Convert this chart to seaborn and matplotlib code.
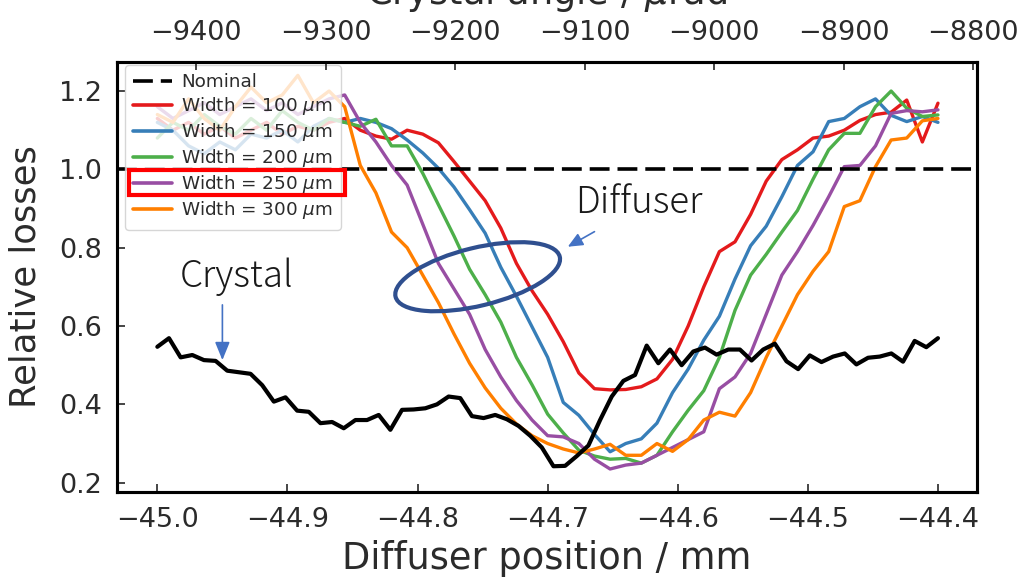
import numpy as np
import pandas as pd
import matplotlib.pyplot as plt
import matplotlib.transforms as mtransforms
from matplotlib.patches import Ellipse, Rectangle
import seaborn as sns

# diffuser scans (51 points between -45.0 and -44.4 mm)
widths = [100, 150, 200, 250, 300]
colors = ["#e41a1c", "#377eb8", "#4daf4a", "#984ea3", "#ff7f00"]

loss_w100 = [1.13, 1.10, 1.12, 1.09, 1.11, 1.08, 1.10, 1.12, 1.09, 1.11, 1.10, 1.12,
             1.13, 1.10, 1.085, 1.077, 1.10, 1.09, 1.068, 1.02, 0.97, 0.92, 0.85, 0.76,
             0.69, 0.63, 0.56, 0.48, 0.44, 0.437, 0.438, 0.445, 0.465, 0.515, 0.60, 0.70,
             0.79, 0.815, 0.885, 0.97, 1.025, 1.05, 1.08, 1.085, 1.10, 1.125, 1.14, 1.146,
             1.177, 1.07, 1.169]
loss_w150 = [1.12, 1.10, 1.06, 1.04, 1.07, 1.05, 1.09, 1.08, 1.10, 1.07, 1.11, 1.13,
             1.12, 1.13, 1.12, 1.104, 1.075, 1.042, 1.003, 0.955, 0.897, 0.837, 0.75, 0.676,
             0.598, 0.52, 0.405, 0.372, 0.323, 0.279, 0.30, 0.312, 0.352, 0.43, 0.49, 0.564,
             0.625, 0.72, 0.805, 0.855, 0.93, 1.01, 1.045, 1.122, 1.13, 1.16, 1.18, 1.138,
             1.122, 1.135, 1.12]
loss_w200 = [1.08, 1.12, 1.10, 1.14, 1.11, 1.09, 1.13, 1.10, 1.15, 1.12, 1.10, 1.13,
             1.12, 1.11, 1.128, 1.06, 1.06, 0.99, 0.91, 0.83, 0.745, 0.68, 0.61, 0.52,
             0.45, 0.375, 0.327, 0.283, 0.268, 0.26, 0.262, 0.25, 0.27, 0.33, 0.385, 0.435,
             0.52, 0.64, 0.73, 0.783, 0.84, 0.895, 0.975, 1.05, 1.092, 1.092, 1.16, 1.20,
             1.156, 1.135, 1.139]
loss_w250 = [1.16, 1.13, 1.15, 1.17, 1.14, 1.16, 1.18, 1.15, 1.17, 1.14, 1.16, 1.18,
             1.19, 1.12, 1.07, 1.01, 0.96, 0.86, 0.76, 0.695, 0.63, 0.54, 0.47, 0.41,
             0.36, 0.32, 0.317, 0.30, 0.26, 0.235, 0.245, 0.25, 0.27, 0.29, 0.31, 0.33,
             0.44, 0.47, 0.53, 0.63, 0.73, 0.79, 0.857, 0.93, 1.007, 1.01, 1.06, 1.143,
             1.15, 1.147, 1.152]
loss_w300 = [1.14, 1.12, 1.18, 1.13, 1.10, 1.16, 1.21, 1.17, 1.19, 1.24, 1.17, 1.20,
             1.16, 1.01, 0.94, 0.84, 0.80, 0.73, 0.66, 0.58, 0.505, 0.442, 0.39, 0.35,
             0.32, 0.30, 0.286, 0.276, 0.286, 0.298, 0.27, 0.27, 0.30, 0.28, 0.31, 0.36,
             0.38, 0.37, 0.43, 0.52, 0.60, 0.68, 0.74, 0.79, 0.905, 0.92, 1.007, 1.075,
             1.08, 1.124, 1.13]

# crystal scan (68 points over the same range)
loss_crystal = [0.547, 0.569, 0.520, 0.526, 0.513, 0.511, 0.486, 0.482, 0.478, 0.449,
                0.407, 0.418, 0.384, 0.381, 0.352, 0.355, 0.339, 0.360, 0.360, 0.373,
                0.335, 0.386, 0.387, 0.390, 0.400, 0.420, 0.416, 0.370, 0.365, 0.373,
                0.362, 0.345, 0.320, 0.290, 0.242, 0.243, 0.268, 0.295, 0.360, 0.420,
                0.460, 0.475, 0.550, 0.505, 0.540, 0.500, 0.535, 0.545, 0.527, 0.540,
                0.540, 0.512, 0.540, 0.555, 0.510, 0.490, 0.525, 0.508, 0.522, 0.530,
                0.502, 0.519, 0.522, 0.530, 0.509, 0.562, 0.546, 0.569]

nominal = 1.0
scan_start, scan_end = -45.0, -44.4
xticks = [-45.0, -44.9, -44.8, -44.7, -44.6, -44.5, -44.4]
yticks = [0.2, 0.4, 0.6, 0.8, 1.0, 1.2]
top_ticks = [-9400, -9300, -9200, -9100, -9000, -8900, -8800]

pos_diff = np.linspace(scan_start, scan_end, len(loss_w100))
pos_crys = np.linspace(scan_start, scan_end, len(loss_crystal))

rows = []
for w, vals in zip(widths, [loss_w100, loss_w150, loss_w200, loss_w250, loss_w300]):
    for p, v in zip(pos_diff, vals):
        rows.append({"pos": p, "loss": v, "width": w})
df = pd.DataFrame(rows)

sns.set_style("ticks")
plt.rcParams["font.family"] = ["DejaVu Sans"]
plt.rcParams["mathtext.fontset"] = "dejavusans"
txt_col = "#2b2b2b"

fig = plt.figure(figsize=(10.21, 5.78), dpi=100)
ax = fig.add_axes([0.1146, 0.1493, 0.8423, 0.744])

ax.axhline(nominal, color="black", lw=2.6, dashes=(5.5, 2.2), label="Nominal", zorder=3)
for w, c in zip(widths, colors):
    sub = df[df["width"] == w]
    sns.lineplot(data=sub, x="pos", y="loss", color=c, lw=2.4, ax=ax,
                 label=f"Width = {w} $\\mu$m")
sns.lineplot(x=pos_crys, y=loss_crystal, color="black", lw=3.0, ax=ax, zorder=4)

ax.set_xlim(-45.031, -44.370)
ax.set_ylim(0.177, 1.275)
ax.set_xticks(xticks)
ax.set_yticks(yticks)
ax.tick_params(direction="in", length=6, width=1.2, labelsize=19.5, pad=11,
               labelcolor=txt_col, top=False, right=False)
ax.set_xlabel("Diffuser position / mm", fontsize=26.5, color=txt_col, labelpad=5)
ax.set_ylabel("Relative losses", fontsize=25.5, color=txt_col, labelpad=12)

ax2 = ax.twiny()
ax2.set_xlim(-9461, -8797)
ax2.set_xticks(top_ticks)
ax2.tick_params(direction="in", length=6, width=1.2, labelsize=19.5, pad=11,
                labelcolor=txt_col)
ax2.set_xlabel("Crystal angle / $\\mu$rad", fontsize=26.5, color=txt_col, labelpad=12)
for a in (ax, ax2):
    for s in a.spines.values():
        s.set_linewidth(2.2)
        s.set_color("black")

handles, labels = ax.get_legend_handles_labels()
leg = ax.legend(handles, labels, loc="upper left", bbox_to_anchor=(0.0093, 0.9923),
                borderaxespad=0, fontsize=13.2, labelspacing=0.22, handlelength=2.1,
                handletextpad=0.5, borderpad=0.45, framealpha=0.8, edgecolor="#cccccc",
                fancybox=True)
for t in leg.get_texts():
    t.set_color(txt_col)
for h in leg.legend_handles:
    h.set_linewidth(2.6)

# annotations
arrow_col = "#4472c4"
ann_font = ["Noto Sans CJK JP", "DejaVu Sans"]
ax.text(-44.939, 0.727, "Crystal", fontsize=26.5, family=ann_font, weight="light",
        color="#1a1a1a", ha="center", va="center")
ax.text(-44.630, 0.915, "Diffuser", fontsize=26.5, family=ann_font, weight="light",
        color="#1a1a1a", ha="center", va="center")
ax.annotate("", xy=(-44.950, 0.513), xytext=(-44.950, 0.654),
            arrowprops=dict(arrowstyle="-|>,head_length=1.1,head_width=0.45",
                            color=arrow_col, lw=1.2, shrinkA=0, shrinkB=0))
ax.annotate("", xy=(-44.6845, 0.8025), xytext=(-44.664, 0.841),
            arrowprops=dict(arrowstyle="-|>,head_length=0.9,head_width=0.4",
                            color=arrow_col, lw=1.2, shrinkA=0, shrinkB=0))
ell_t = mtransforms.IdentityTransform() + mtransforms.ScaledTranslation(-44.7538, 0.7259, ax.transData)
ax.add_artist(Ellipse((0, 0), width=169, height=58, angle=13.7, transform=ell_t,
                      fill=False, ec="#2f4f8f", lw=3, zorder=6))

# red box around the 250 um entry
fig.canvas.draw()
r = fig.canvas.get_renderer()
tb = leg.get_texts()[4].get_window_extent(r)
hb = leg.legend_handles[4].get_window_extent(r)
lb = leg.get_window_extent(r)
yc = (tb.y0 + tb.y1) / 2 + 2
x0, x1 = hb.x0 - 4, lb.x1 + 4
ax.add_artist(Rectangle((x0, yc - 12.5), x1 - x0, 25, transform=mtransforms.IdentityTransform(),
                        fill=False, ec="#ff0000", lw=3, zorder=7))

fig.savefig("out.png", dpi=100)
